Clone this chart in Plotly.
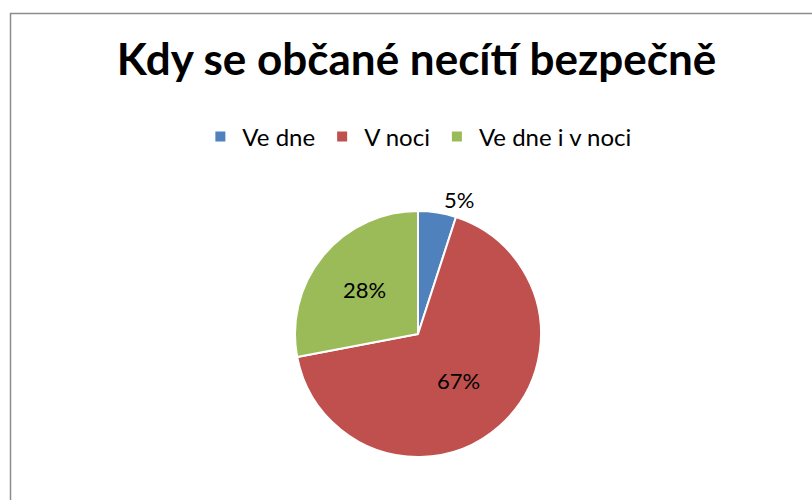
import plotly.graph_objects as go

categories = ["Ve dne", "V noci", "Ve dne i v noci"]
values = [5, 67, 28]
colors = ["#4F81BD", "#C0504D", "#9BBB59"]
title_text = "Kdy se občané necítí bezpečně"

W, H = 812, 500
cx, cy, r = 418, 334, 123
FONT = "Lato, Open Sans, sans-serif"

fig = go.Figure(go.Pie(
    labels=categories,
    values=values,
    sort=False,
    direction="clockwise",
    rotation=0,
    marker=dict(colors=colors, line=dict(color="white", width=2)),
    texttemplate="%{percent:.0%}",
    textposition=["outside", "inside", "inside"],
    insidetextorientation="horizontal",
    textfont=dict(size=22, color="black", family=FONT),
    domain=dict(x=[(cx - r) / W, (cx + r) / W], y=[1 - (cy + r) / H, 1 - (cy - r) / H]),
    hoverinfo="label+percent",
))

fig.update_layout(
    width=W, height=H,
    margin=dict(l=0, r=0, t=0, b=0),
    paper_bgcolor="white",
    font=dict(family=FONT, color="black"),
    title=dict(text="<b>" + title_text + "</b>", x=0.513, xanchor="center",
               y=1 - 60 / H, yanchor="middle",
               font=dict(size=44, color="black", family=FONT)),
    legend=dict(orientation="h", x=0.514, xanchor="center", y=1 - 137 / H, yanchor="middle",
                font=dict(size=24, color="black"), itemwidth=34, traceorder="normal"),
    shapes=[dict(type="rect", xref="paper", yref="paper",
                 x0=10.5 / W, x1=1.05, y0=-0.05, y1=1 - 13.5 / H,
                 line=dict(color="#8c8c8c", width=1.5), fillcolor="rgba(0,0,0,0)")],
)

fig.write_html("out.html", config={"displayModeBar": False},
               post_script="document.body.style.margin='0';document.body.style.padding='0';")
